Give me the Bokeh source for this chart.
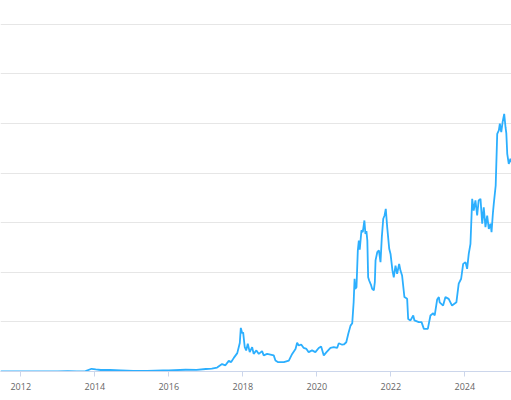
import pandas as pd
from bokeh.plotting import figure
from bokeh.models import Range1d, FixedTicker, DatetimeTickFormatter
from bokeh.embed import file_html
from bokeh.resources import INLINE

# weekly-ish closing price (USD)
dates = [
    "2011-06-15", "2011-10-01", "2012-01-01", "2012-06-01", "2012-09-01", "2013-01-01",
    "2013-04-10", "2013-07-05", "2013-10-01", "2013-11-30", "2014-01-10", "2014-03-01",
    "2014-06-01", "2014-09-15", "2015-01-15", "2015-06-01", "2015-11-05", "2016-01-01",
    "2016-06-15", "2016-10-01", "2017-01-01", "2017-03-01", "2017-04-22", "2017-06-10",
    "2017-07-13", "2017-08-15", "2017-09-08", "2017-10-04", "2017-11-07", "2017-12-02",
    "2017-12-12", "2017-12-26", "2018-01-04", "2018-01-20", "2018-02-03", "2018-02-19",
    "2018-03-10", "2018-04-03", "2018-04-18", "2018-05-15", "2018-06-08", "2018-07-10",
    "2018-07-26", "2018-08-29", "2018-11-02", "2018-11-19", "2018-12-12", "2019-02-10",
    "2019-03-31", "2019-05-03", "2019-06-05", "2019-06-21", "2019-07-07", "2019-07-31",
    "2019-08-25", "2019-09-21", "2019-10-13", "2019-11-15", "2019-12-18", "2020-01-20",
    "2020-02-13", "2020-03-10", "2020-04-06", "2020-05-15", "2020-06-17", "2020-07-20",
    "2020-08-05", "2020-09-08", "2020-09-24", "2020-10-18", "2020-11-07", "2020-11-29",
    "2020-12-16", "2020-12-30", "2021-01-08", "2021-01-14", "2021-01-27", "2021-02-09",
    "2021-02-19", "2021-02-28", "2021-03-17", "2021-03-30", "2021-04-15", "2021-04-25",
    "2021-05-05", "2021-05-14", "2021-05-22", "2021-06-01", "2021-06-21", "2021-07-01",
    "2021-07-17", "2021-07-27", "2021-08-03", "2021-08-20", "2021-09-05", "2021-09-21",
    "2021-10-04", "2021-10-18", "2021-10-31", "2021-11-12", "2021-11-26", "2021-12-16",
    "2021-12-29", "2022-01-17", "2022-01-30", "2022-02-16", "2022-03-04", "2022-03-24",
    "2022-04-06", "2022-04-22", "2022-05-15", "2022-06-11", "2022-06-21", "2022-07-14",
    "2022-08-10", "2022-08-22", "2022-10-04", "2022-10-31", "2022-11-23", "2023-01-01",
    "2023-01-27", "2023-02-23", "2023-03-10", "2023-04-03", "2023-04-20", "2023-04-28",
    "2023-06-01", "2023-06-24", "2023-07-26", "2023-08-28", "2023-10-10", "2023-11-02",
    "2023-11-26", "2023-12-16", "2024-01-08", "2024-01-24", "2024-02-09", "2024-02-26",
    "2024-03-14", "2024-03-29", "2024-04-15", "2024-05-02", "2024-05-17", "2024-06-04",
    "2024-06-21", "2024-07-06", "2024-07-23", "2024-08-09", "2024-08-25", "2024-09-11",
    "2024-09-21", "2024-10-04", "2024-10-13", "2024-11-01", "2024-11-16", "2024-12-02",
    "2024-12-12", "2024-12-26", "2025-01-08", "2025-01-24", "2025-02-06", "2025-02-14",
    "2025-02-23", "2025-03-10", "2025-03-26", "2025-04-10",
]
price = [
    16, 5, 5, 6, 11, 13,
    160, 80, 130, 1100, 850, 600,
    650, 450, 220, 230, 400, 430,
    700, 620, 1000, 1200, 1600, 3000,
    2500, 4300, 3800, 5500, 7400, 11500,
    17600, 15400, 15800, 9800, 8500, 11200,
    7800, 9800, 7100, 8500, 7100, 8200,
    6500, 7100, 6500, 4400, 3800, 3800,
    4400, 7100, 9100, 11600, 10500, 10900,
    9500, 9100, 7800, 8500, 7800, 9500,
    10100, 6500, 7800, 9500, 9800, 9500,
    11400, 10800, 10900, 11800, 15200, 18500,
    19500, 28000, 37400, 33300, 34000, 48800,
    52800, 49100, 56900, 56200, 60900, 55500,
    56600, 52800, 38000, 36700, 34700, 33300,
    32700, 36000, 44800, 48100, 48800, 44100,
    54200, 61600, 62900, 65600, 58200, 49500,
    47400, 40700, 38000, 42700, 39400, 43400,
    40700, 38700, 30000, 29300, 21200, 20600,
    22600, 20600, 19900, 19900, 17200, 17200,
    22600, 23500, 22600, 29000, 30000, 27900,
    26600, 30000, 29300, 26600, 27900, 35400,
    37400, 43400, 44100, 41400, 47400, 51500,
    69600, 64900, 69000, 62900, 69000, 69600,
    59600, 66200, 58200, 62900, 57500, 59600,
    56200, 63600, 67600, 75000, 95800, 97200,
    99900, 96500, 100500, 103900, 98500, 96000,
    87800, 83700, 85800, 84000,
]
year_ticks = [2012, 2014, 2016, 2018, 2020, 2022, 2024]
price_grid = [0, 20000, 40000, 60000, 80000, 100000, 120000, 140000]

x = pd.to_datetime(dates)


def ms(ts):
    return pd.Timestamp(ts).value / 1e6


p = figure(width=511, height=400, x_axis_type="datetime",
           output_backend="svg", toolbar_location=None,
           min_border_left=0, min_border_right=0, min_border_top=0, min_border_bottom=29,
           x_range=Range1d(ms("2011-06-15"), ms("2025-04-06")),
           y_range=Range1d(0, 149600))
p.outline_line_color = None
p.background_fill_color = "white"

p.line(x, price, line_color="#2caffe", line_width=1.8)

p.yaxis.visible = False
p.yaxis.ticker = FixedTicker(ticks=price_grid)
p.ygrid.grid_line_color = "#e6e6e6"
p.xgrid.grid_line_color = None

p.xaxis.ticker = FixedTicker(ticks=[ms(f"{y}-01-01") for y in year_ticks])
p.xaxis.formatter = DatetimeTickFormatter(years="%Y", months="%Y", days="%Y")
p.xaxis.axis_line_color = "#ccd6eb"
p.xaxis.major_tick_line_color = "#ccd6eb"
p.xaxis.major_tick_out = 5
p.xaxis.major_tick_in = 0
p.xaxis.minor_tick_line_color = None
p.xaxis.major_label_text_color = "#666666"
p.xaxis.major_label_text_font = "Open Sans"
p.xaxis.major_label_text_font_size = "9px"
p.xaxis.major_label_standoff = 6

open("out.html", "w").write(file_html(p, INLINE))
